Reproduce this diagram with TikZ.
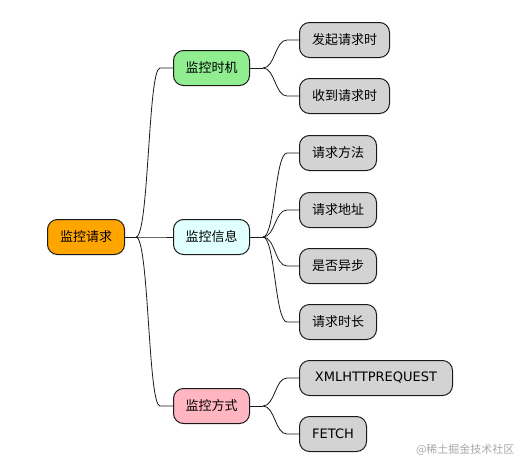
\documentclass[tikz,border=0pt]{standalone}
\usepackage{fontspec}
\setmainfont{DejaVu Sans}
\newfontfamily\cjk{Noto Sans CJK SC}
\definecolor{rootc}{HTML}{FFA500}
\definecolor{timec}{HTML}{90EE90}
\definecolor{infoc}{HTML}{E0FFFF}
\definecolor{wayc}{HTML}{FFB6C1}
\definecolor{leafc}{HTML}{D3D3D3}
\definecolor{edgec}{HTML}{1A1A1A}
\definecolor{markc}{HTML}{A8A8A8}
\begin{document}
\begin{tikzpicture}[x=1pt,y=-1pt,
  box/.style={draw=edgec,line width=1pt,rounded corners=10pt,minimum height=35pt,
    inner xsep=0pt,inner ysep=0pt,anchor=west,font=\cjk\fontsize{13}{15}\selectfont},
  latinbox/.style={box,font=\fontsize{13}{15}\selectfont},
  link/.style={draw=edgec,line width=0.8pt}]
\useasboundingbox (0,0) rectangle (530,469);
% nodes
\node[box,fill=rootc,minimum width=77pt] (root) at (47,237) {监控请求};
\node[box,fill=timec,minimum width=76pt] (time) at (173,68) {监控时机};
\node[box,fill=infoc,minimum width=76pt] (info) at (173,237) {监控信息};
\node[box,fill=wayc,minimum width=76pt] (way) at (173,406) {监控方式};
\node[box,fill=leafc,minimum width=90pt] (l1) at (299,40) {发起请求时};
\node[box,fill=leafc,minimum width=90pt] (l2) at (299,96) {收到请求时};
\node[box,fill=leafc,minimum width=77pt] (l3) at (299,153) {请求方法};
\node[box,fill=leafc,minimum width=77pt] (l4) at (299,210) {请求地址};
\node[box,fill=leafc,minimum width=77pt] (l5) at (299,266) {是否异步};
\node[box,fill=leafc,minimum width=77pt] (l6) at (299,322) {请求时长};
\node[latinbox,fill=leafc,minimum width=153pt] (l7) at (299,378) {XMLHTTPREQUEST};
\node[latinbox,fill=leafc,minimum width=67pt] (l8) at (299,434) {FETCH};
\node[anchor=east,text=markc,font=\cjk\fontsize{11}{13}\selectfont] (mark) at (518,450) {@稀土掘金技术社区};
% junctions
\coordinate (j0) at ([xshift=11pt]root.east);
\coordinate (jt) at ([xshift=13pt]time.east);
\coordinate (ji) at ([xshift=13pt]info.east);
\coordinate (jw) at ([xshift=13pt]way.east);
\draw[link] (root.east) -- (j0);
\draw[link] (time.east) -- (jt);
\draw[link] (info.east) -- (ji);
\draw[link] (way.east) -- (jw);
% root to level 1
\foreach \c in {time,info,way}{
  \draw[link] (j0) .. controls ([xshift=13pt]j0) and ([xshift=-25pt]\c.west) .. ([xshift=-13pt]\c.west) -- (\c.west);
}
% level 1 to leaves
\foreach \p/\c in {jt/l1,jt/l2,ji/l3,ji/l4,ji/l5,ji/l6,jw/l7,jw/l8}{
  \draw[link] (\p) .. controls ([xshift=12pt]\p) and ([xshift=-24pt]\c.west) .. ([xshift=-12pt]\c.west) -- (\c.west);
}
\end{tikzpicture}
\end{document}
